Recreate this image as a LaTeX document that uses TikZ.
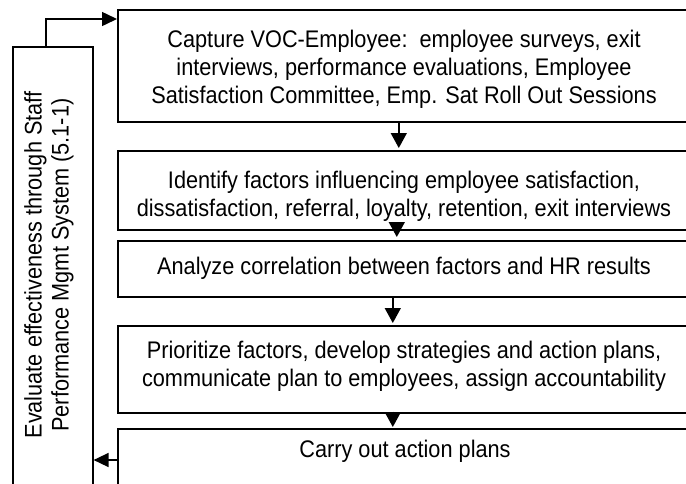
\documentclass[tikz,border=0pt]{standalone}
\usepackage{fontspec}
\setmainfont{Liberation Sans}[FakeStretch=0.905]
\usetikzlibrary{arrows.meta}
\tikzset{
  box/.style={draw, line width=1.6pt, minimum width=574pt, inner sep=0pt, anchor=north west},
  txt/.style={align=center, inner sep=0pt, font=\fontsize{24}{28}\selectfont},
  arr/.style={line width=1.5pt, -{Triangle[length=15pt,width=16pt]}},
  arrs/.style={line width=1.5pt, -{Triangle[length=15pt,width=14pt]}}
}
\begin{document}
\begin{tikzpicture}[x=1pt,y=-1pt]
\useasboundingbox (0,0) rectangle (686,483);
\clip (0,0) rectangle (686,483);
\node[box, minimum height=112pt] (b1) at (117,9) {};
\node[box, minimum height=79pt] (b2) at (117,150) {};
\node[box, minimum height=56pt] (b3) at (117,240) {};
\node[box, minimum height=87pt] (b4) at (117,325) {};
\node[box, minimum height=80pt] (b5) at (117,428) {};
\node[txt] (t1) at (404,69) {Capture VOC-Employee:\ \ employee surveys, exit\\interviews, performance evaluations, Employee\\Satisfaction Committee, Emp. Sat Roll Out Sessions};
\node[txt] (t2) at (404,196) {Identify factors influencing employee satisfaction,\\dissatisfaction, referral, loyalty, retention, exit interviews};
\node[txt] (t3) at (404,268) {Analyze correlation between factors and HR results};
\node[txt] (t4) at (404,366) {Prioritize factors, develop strategies and action plans,\\communicate plan to employees, assign accountability};
\node[txt] (t5) at (405,451) {Carry out action plans};
\node[draw, line width=1.6pt, minimum width=80pt, minimum height=470pt, anchor=north west, inner sep=0pt] (ev) at (12,46) {};
\node[rotate=90, align=center, font=\fontsize{24}{27}\selectfont, inner sep=0pt] (evt) at (49,265) {Evaluate effectiveness through Staff\\Performance Mgmt System (5.1-1)};
\coordinate (c1) at (46,19);
\draw[arrs] (ev.north -| c1) -- (c1) -- (c1 -| b1.west);
\draw[arr] ([xshift=-6pt]b1.south) -- ([xshift=-6pt,yshift=2pt]b2.north);
\draw[arr] ([xshift=-8pt]b2.south) -- ([xshift=-8pt,yshift=3pt]b3.north);
\draw[arr] ([xshift=-12pt]b3.south) -- ([xshift=-12pt,yshift=2pt]b4.north);
\draw[arr] ([xshift=-12pt,yshift=2pt]b4.south) -- ([xshift=-12pt,yshift=1pt]b5.north);
\coordinate (c5) at (117,460);
\draw[arrs] (c5) -- (c5 -| ev.east);
\end{tikzpicture}
\end{document}
